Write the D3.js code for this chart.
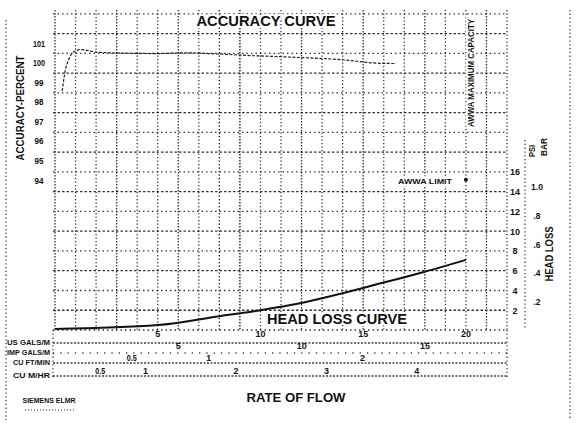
<!DOCTYPE html>
<html>
<head>
<meta charset="utf-8">
<script src="https://cdn.jsdelivr.net/npm/d3@7/dist/d3.min.js"></script>
<style>
  body { margin: 0; background: #fff; }
  svg { display: block; }
  text { font-family: "Liberation Sans Narrow", "Liberation Sans", Arial, sans-serif; fill: #111; }
  .grid line { stroke: #111; stroke-width: 1.3; }
</style>
</head>
<body>
<svg id="chart" width="576" height="424"></svg>
<script>
// values
const flowGpm = [0.35, 0.5, 0.65, 0.85, 1.2, 2.2, 4.0, 5.0, 6.4, 7.5, 9.5, 11.9, 13.9, 15.7, 16.6];
const accuracyPct = [98.55, 99.6, 100.1, 100.5, 100.66, 100.52, 100.47, 100.46, 100.5, 100.46, 100.36, 100.26, 100.15, 99.97, 99.95];

const lossGpm = [0, 5, 8, 10, 11.4, 16, 18, 20];
const lossPsi = [0.1, 0.5, 1.4, 2.0, 2.5, 4.8, 5.9, 7.1];

const accTicks = [101, 100, 99, 98, 97, 96, 95, 94];
const psiTicks = [2, 4, 6, 8, 10, 12, 14, 16];
const barTicks = [0.2, 0.4, 0.6, 0.8, 1.0];
const barLabels = ['.2', '.4', '.6', '.8', '1.0'];

// flow scales under the chart
const gpmTicks = [5, 10, 15, 20];
const ukTicks = [5, 10, 15];
const cuftTicks = [0.5, 1, 2];
const m3hTicks = [0.5, 1, 2, 3, 4];
const unitNames = ['US GALS/M', 'IMP GALS/M', 'CU FT/MIN', 'CU M/HR'];

const awwaLimit = { gpm: 20, psi: 15.2 };

const svg = d3.select('#chart');
const x = d3.scaleLinear().domain([0, 22]).range([55, 507]);
const psi = d3.scaleLinear().domain([0, 32]).range([330, 13.8]);
const acc = d3.scaleLinear().domain([94, 101]).range([180, 43]);

/* grille pointillée */
const grid = svg.append('g').attr('class', 'grid');
grid.selectAll('.v').data(d3.range(0, 23)).join('line')
    .attr('x1', d => x(d)).attr('x2', d => x(d))
    .attr('y1', 10).attr('y2', 330)
    .attr('stroke-dasharray', (d, i) => i % 3 == 0 ? '1.5,1.5' : '1.3,2.2')
    .attr('stroke-opacity', (d, i) => (i == 8 || i == 9) ? 1 : 0.85);
grid.selectAll('.h').data(d3.range(0, 33, 2)).join('line')
    .attr('x1', 53).attr('x2', 507)
    .attr('y1', d => psi(d)).attr('y2', d => psi(d))
    .attr('stroke-dasharray', (d, i) => i % 2 ? '2.5,2' : '1.5,3')
    .attr('stroke-opacity', 0.85);

// borders and side axes
const border = [[6, 20, 6, 420], [570, 10, 570, 420], [525, 140, 525, 330], [507, 330, 507, 378], [53, 330, 53, 378]];
grid.selectAll('.b').data(border).join('line')
    .attr('x1', d => d[0]).attr('y1', d => d[1]).attr('x2', d => d[2]).attr('y2', d => d[3])
    .attr('stroke-dasharray', '1.3,2.5').attr('stroke-opacity', 0.8);

// bottom table lines
const tableY = [343, 353, 363, 376];
grid.selectAll('.t').data(tableY).join('line')
    .attr('x1', 53).attr('x2', 507)
    .attr('y1', d => d).attr('y2', d => d)
    .attr('stroke-dasharray', (d, i) => i == 1 ? '1.3,6' : '2,1.5')
    .attr('stroke-opacity', 0.8);
grid.append('line').attr('x1', 25).attr('x2', 75).attr('y1', 410).attr('y2', 410)
    .attr('stroke-dasharray', '1,2').attr('stroke-opacity', 0.6);

/* courbes */
svg.append('path')
    .datum(flowGpm.map((g, i) => [g, accuracyPct[i]]))
    .attr('fill', 'none').attr('stroke', '#222').attr('stroke-width', 1.2)
    .attr('stroke-dasharray', '3,1.5')
    .attr('d', d3.line().x(d => x(d[0])).y(d => acc(d[1])).curve(d3.curveMonotoneX));

svg.append('path')
    .datum(lossGpm.map((g, i) => [g, lossPsi[i]]))
    .attr('fill', 'none').attr('stroke', '#111').attr('stroke-width', 2)
    .attr('d', d3.line().x(d => x(d[0])).y(d => psi(d[1])).curve(d3.curveMonotoneX));

svg.append('circle').attr('cx', x(awwaLimit.gpm)).attr('cy', psi(awwaLimit.psi)).attr('r', 2).attr('fill', '#111');

/* labels */
function label(txt, px, py, size, opts) {
    opts = opts || {};
    let t = svg.append('text').text(txt)
        .attr('x', px).attr('y', py)
        .attr('font-size', size)
        .attr('font-weight', opts.weight || 'bold')
        .attr('text-anchor', opts.anchor || 'middle')
        .attr('dominant-baseline', 'central');
    if (opts.rotate) t.attr('transform', `rotate(-90,${px},${py})`);
    if (opts.len) t.attr('textLength', opts.len).attr('lengthAdjust', 'spacingAndGlyphs');
    if (opts.halo) t.attr('stroke', '#fff').attr('stroke-width', 4).attr('paint-order', 'stroke');
    return t;
}

accTicks.forEach(a => label(a, 39, acc(a), 9.5, { len: a > 99 ? 12 : 9 }));
psiTicks.forEach(p => label(p, 515, psi(p), 9.5, { len: p > 9 ? 10 : 5 }));
barTicks.forEach((b, i) => label(barLabels[i], 537, psi(b * 14.5038), 9.5, { len: i == 4 ? 12 : 7 }));

gpmTicks.forEach(v => label(v, x(v), 333, 9.5, { len: v > 9 ? 10 : 5 }));
ukTicks.forEach(v => label(v, x(v * 1.20095), 345, 9.5, { len: v > 9 ? 10 : 5 }));
cuftTicks.forEach(v => label(v, x(v * 7.4805), 357, 9.5, { len: v < 1 ? 10 : 5 }));
m3hTicks.forEach(v => label(v, x(v * 4.4029), 370, 9.5, { len: v < 1 ? 10 : 5 }));
unitNames.forEach((n, i) => label(n, 50, tableY[i] - 1, 6.5, { anchor: 'end', len: i < 2 ? 43 : 37 }));

label('ACCURACY CURVE', 266, 20, 15, { len: 139, halo: true });
label('HEAD LOSS CURVE', 337, 318, 15, { len: 140, halo: true });
label('RATE OF FLOW', 296, 398, 12.5, { len: 99 });
label('ACCURACY-PERCENT', 20, 108, 10.5, { rotate: true, len: 105 });
label('AWWA MAXIMUM CAPACITY', 470, 73, 9.5, { rotate: true, len: 108, halo: true });
label('AWWA LIMIT', 425, 181, 8, { len: 54, halo: true });
label('PSI', 532, 151, 9, { rotate: true, len: 12 });
label('BAR', 544, 147, 9, { rotate: true, len: 18 });
label('HEAD LOSS', 549, 254, 10, { rotate: true, len: 55 });
label('SIEMENS ELMR', 49, 400, 6.5, { len: 53 });
</script>
</body>
</html>
